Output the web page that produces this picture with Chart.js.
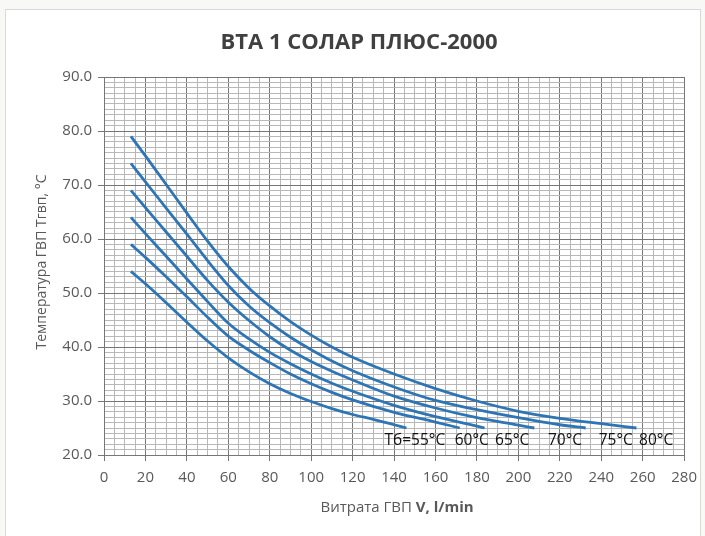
<!DOCTYPE html>
<html><head><meta charset="utf-8">
<script src="https://cdn.jsdelivr.net/npm/chart.js@4.4.1/dist/chart.umd.min.js"></script>
<style>
html,body{margin:0;padding:0;background:#f8f8f6;width:705px;height:536px;overflow:hidden;}
#frame{position:absolute;left:5px;top:9px;width:694px;height:540px;border:1px solid #d9d9d9;background:#fff;}
#wrap{position:absolute;left:0;top:0;width:705px;height:536px;}
</style></head><body>
<div id="frame"></div>
<div id="wrap"><canvas id="c" width="705" height="536"></canvas></div>
<script>
const chartTitle = 'ВТА 1 СОЛАР ПЛЮС-2000';
const xTitleNormal = 'Витрата ГВП ';
const xTitleBold = 'V, l/min';
const yTitle = 'Температура ГВП Тгвп, °C';

// flow V (l/min) and temperature (°C) for each boiler temperature Тб
const flow55 = [13, 20, 30, 40, 50, 60, 70, 80, 90, 100, 110, 120, 130, 140, 146];
const temp55 = [54, 51.7, 48.2, 44.6, 41.1, 38.0, 35.4, 33.2, 31.4, 29.9, 28.6, 27.5, 26.6, 25.6, 25.0];
const flow60 = [13, 20, 30, 40, 50, 60, 70, 80, 90, 100, 110, 120, 140, 160, 171.7];
const temp60 = [59, 56.6, 53.0, 49.3, 45.5, 42.0, 39.4, 37.1, 35.0, 33.2, 31.6, 30.2, 27.9, 26.1, 25.0];
const flow65 = [13, 20, 30, 40, 50, 60, 70, 80, 90, 100, 110, 120, 140, 160, 180, 183.7];
const temp65 = [64, 61.0, 56.8, 52.6, 48.4, 44.4, 41.5, 39.0, 36.9, 35.0, 33.3, 31.8, 29.2, 27.1, 25.35, 25.0];
const flow70 = [13, 20, 30, 40, 50, 60, 70, 80, 90, 100, 110, 120, 140, 160, 180, 200, 207.7];
const temp70 = [69, 65.8, 61.3, 56.8, 52.3, 48.3, 44.9, 41.9, 39.4, 37.3, 35.5, 33.9, 30.9, 28.7, 26.9, 25.55, 25.0];
const flow75 = [13, 20, 30, 40, 50, 60, 70, 80, 90, 100, 110, 120, 140, 160, 180, 200, 220, 232.5];
const temp75 = [74, 70.6, 65.7, 60.9, 56.0, 51.4, 47.6, 44.5, 41.8, 39.5, 37.4, 35.6, 32.6, 30.1, 28.4, 26.9, 25.6, 25.0];
const flow80 = [13, 20, 30, 40, 50, 60, 70, 80, 90, 100, 110, 120, 140, 160, 180, 200, 220, 240, 257];
const temp80 = [79, 75.4, 70.1, 64.8, 59.6, 54.9, 50.9, 47.6, 44.7, 42.2, 40.0, 38.1, 35.0, 32.3, 30.0, 28.1, 26.8, 25.8, 25.0];

const curveLabels = ['Тб=55°C', '60°C', '65°C', '70°C', '75°C', '80°C'];

const seriesFlow = [flow55, flow60, flow65, flow70, flow75, flow80];
const seriesTemp = [temp55, temp60, temp65, temp70, temp75, temp80];

const FONT = 'Open Sans';
const TXT = '#595959';
const MAJOR = '#767676';
const MINOR = '#b8b8b8';
const LINE = '#2E75B6';

const datasets = seriesFlow.map((f, k) => ({
  label: curveLabels[k],
  data: f.map((x, i) => ({x: x, y: seriesTemp[k][i]})),
  showLine: true,
  borderColor: LINE,
  backgroundColor: LINE,
  borderWidth: 2.8,
  pointRadius: 0,
  cubicInterpolationMode: 'monotone'
}));

const textPlugin = {
  id: 'texts',
  afterDraw(chart, args, opts) {
    const ctx = chart.ctx;
    const a = chart.chartArea;
    const xs = chart.scales.x, ys = chart.scales.y;
    ctx.save();
    // chart title
    ctx.fillStyle = '#404040';
    ctx.font = 'bold 22px "' + FONT + '"';
    ctx.textAlign = 'center';
    ctx.textBaseline = 'middle';
    ctx.fillText(chartTitle, 359, 43);
    // curve labels
    ctx.fillStyle = '#111';
    ctx.font = '15.5px "' + FONT + '"';
    opts.labelAnchors.forEach((v, i) => {
      ctx.fillText(curveLabels[i], xs.getPixelForValue(v), ys.getPixelForValue(opts.labelY));
    });
    // x axis title with bold part
    ctx.fillStyle = TXT;
    ctx.textAlign = 'left';
    const fN = '15px "' + FONT + '"', fB = 'bold 15px "' + FONT + '"';
    ctx.font = fN; const w1 = ctx.measureText(xTitleNormal).width;
    ctx.font = fB; const w2 = ctx.measureText(xTitleBold).width;
    const cx = (a.left + a.right) / 2 + 3;
    const x0 = cx - (w1 + w2) / 2;
    ctx.font = fN; ctx.fillText(xTitleNormal, x0, 508);
    ctx.font = fB; ctx.fillText(xTitleBold, x0 + w1, 508);
    // y axis title
    ctx.translate(42, 262);
    ctx.rotate(-Math.PI / 2);
    ctx.textAlign = 'center';
    ctx.font = '14px "' + FONT + '"';
    ctx.fillText(yTitle, 0, 0);
    ctx.restore();
  }
};

const isMajor = (v, step) => Math.abs(v % step) < 1e-6;

new Chart(document.getElementById('c'), {
  type: 'scatter',
  data: {datasets: datasets},
  plugins: [textPlugin],
  options: {
    responsive: false,
    animation: false,
    devicePixelRatio: 1,
    layout: {padding: {left: 0, right: 18, top: 77, bottom: 0}},
    plugins: {
      legend: {display: false},
      tooltip: {enabled: false},
      title: {display: false},
      texts: {labelAnchors: [150, 177.5, 197, 222.5, 247, 266.5], labelY: 22.6}
    },
    scales: {
      x: {
        type: 'linear', min: 0, max: 280,
        afterFit: s => { s.height = 81; },
        border: {color: MAJOR, width: 1},
        grid: {
          color: c => (c.tick && isMajor(c.tick.value, 20)) ? MAJOR : MINOR,
          tickColor: c => (c.tick && isMajor(c.tick.value, 20)) ? MAJOR : 'rgba(0,0,0,0)',
          tickLength: 6, lineWidth: 1
        },
        ticks: {
          stepSize: 5, autoSkip: false, maxRotation: 0, minRotation: 0,
          color: TXT, font: {family: FONT, size: 15}, padding: 8,
          callback: v => isMajor(v, 20) ? String(v) : ''
        }
      },
      y: {
        type: 'linear', min: 20, max: 90,
        afterFit: s => { s.width = 104; },
        border: {color: MAJOR, width: 1},
        grid: {
          color: c => (c.tick && isMajor(c.tick.value, 10)) ? MAJOR : MINOR,
          tickColor: c => (c.tick && isMajor(c.tick.value, 10)) ? MAJOR : 'rgba(0,0,0,0)',
          tickLength: 6, lineWidth: 1
        },
        ticks: {
          stepSize: 1, autoSkip: false,
          color: TXT, font: {family: FONT, size: 15}, padding: 6,
          callback: v => isMajor(v, 10) ? v.toFixed(1) : ''
        }
      }
    }
  }
});
</script>
</body></html>
